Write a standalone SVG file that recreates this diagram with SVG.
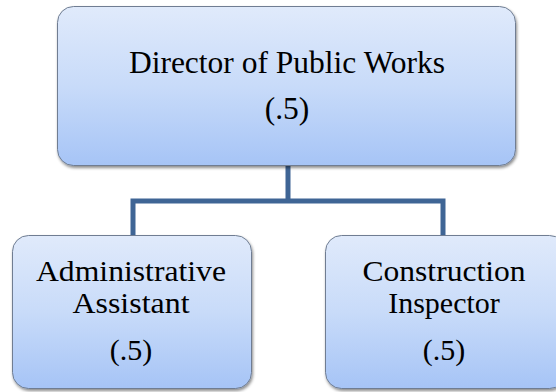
<svg xmlns="http://www.w3.org/2000/svg" width="556" height="392" viewBox="0 0 556 392">
<defs>
<linearGradient id="g" x1="0" y1="0" x2="0" y2="1">
<stop offset="0" stop-color="#e0eafb"/>
<stop offset="0.5" stop-color="#c8dbf9"/>
<stop offset="1" stop-color="#a6c4f6"/>
</linearGradient>
<filter id="sh" x="-10%" y="-10%" width="120%" height="130%">
<feDropShadow dx="1" dy="2" stdDeviation="1.5" flood-color="#000" flood-opacity="0.45"/>
</filter>
</defs>
<style>
.box{fill:url(#g);stroke:#6f7d92;stroke-width:1;filter:url(#sh)}
.t{fill:#000;text-anchor:middle;font-family:"Liberation Serif","Times New Roman",serif}
.c{fill:none;stroke:#3f6595;stroke-width:5}
</style>
<rect width="556" height="392" fill="#fff"/>
<g id="connectors">
<path class="c" d="M288 166 V201 M133 201 H443 M133 198.5 V236 M443 198.5 V236"/>
</g>
<g id="director">
<rect class="box" x="57.5" y="6.5" width="458" height="159" rx="16"/>
<text class="t" x="287" y="73" font-size="31.5">Director of Public Works</text>
<text class="t" x="287" y="119" font-size="31.5">(.5)</text>
</g>
<g id="assistant">
<rect class="box" x="12.5" y="235.5" width="239" height="153" rx="16"/>
<text class="t" x="131" y="281" font-size="30" textLength="190" lengthAdjust="spacingAndGlyphs">Administrative</text>
<text class="t" x="131" y="313" font-size="30" textLength="117" lengthAdjust="spacingAndGlyphs">Assistant</text>
<text class="t" x="131" y="360" font-size="30">(.5)</text>
</g>
<g id="inspector">
<rect class="box" x="325.5" y="235.5" width="240" height="153" rx="16"/>
<text class="t" x="444" y="281" font-size="30" textLength="163" lengthAdjust="spacingAndGlyphs">Construction</text>
<text class="t" x="444" y="313" font-size="30">Inspector</text>
<text class="t" x="444" y="360" font-size="30">(.5)</text>
</g>
</svg>
